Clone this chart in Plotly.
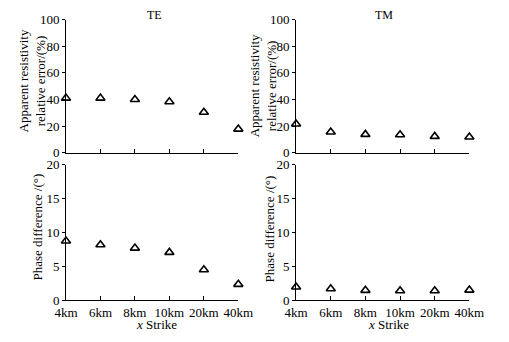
import plotly.graph_objects as go

categories = ["4km", "6km", "8km", "10km", "20km", "40km"]
te_res = [41, 41, 40, 38.3, 30.4, 17.7]
tm_res = [21.5, 15.5, 13.7, 13.4, 12.2, 11.7]
te_phase = [8.75, 8.2, 7.7, 7.06, 4.5, 2.35]
tm_phase = [1.95, 1.7, 1.46, 1.4, 1.4, 1.5]

xpos = list(range(len(categories)))
W, H = 509, 342
FONT = "Liberation Serif"

fig = go.Figure()
mk = dict(symbol="triangle-up-open", size=8, color="black", line=dict(width=1.6, color="black"))
series = [(te_res, "x", "y"), (tm_res, "x2", "y2"), (te_phase, "x3", "y3"), (tm_phase, "x4", "y4")]
for vals, xa, ya in series:
    fig.add_trace(go.Scatter(x=xpos, y=vals, mode="markers", marker=mk, xaxis=xa, yaxis=ya,
                             cliponaxis=False, showlegend=False))

xl = [57 / W, 239 / W]
xr = [300 / W, 483 / W]
yt = [(H - 152.3) / H, (H - 13.3) / H]
yb = [(H - 306.7) / H, (H - 165) / H]

def xax(dom, anchor, labels):
    return dict(domain=dom, anchor=anchor, range=[0, 5], tickvals=xpos,
                ticktext=categories if labels else [""] * 6, showticklabels=labels,
                ticks="inside", ticklen=4, tickcolor="black", showline=True, linecolor="black",
                linewidth=1, showgrid=False, zeroline=False,
                tickfont=dict(family=FONT, size=13, color="black"))

def yax(dom, anchor, rng, dtick):
    return dict(domain=dom, anchor=anchor, range=rng, dtick=dtick, ticks="outside", ticklen=3,
                tickcolor="black", showline=True, linecolor="black", linewidth=1,
                showgrid=False, zeroline=False,
                tickfont=dict(family=FONT, size=13, color="black"))

fig.update_layout(
    width=W, height=H, margin=dict(l=0, r=0, t=0, b=0),
    paper_bgcolor="white", plot_bgcolor="white",
    xaxis=xax(xl, "y", False), yaxis=yax(yt, "x", [0, 100], 20),
    xaxis2=xax(xr, "y2", False), yaxis2=yax(yt, "x2", [0, 100], 20),
    xaxis3=xax(xl, "y3", True), yaxis3=yax(yb, "x3", [0, 20], 5),
    xaxis4=xax(xr, "y4", True), yaxis4=yax(yb, "x4", [0, 20], 5),
)

def ann(text, x, y, size=13, angle=0):
    fig.add_annotation(text=text, x=x / W, y=1 - y / H, xref="paper", yref="paper",
                       showarrow=False, textangle=angle, xanchor="center", yanchor="middle",
                       font=dict(family=FONT, size=size, color="black"))

ann("TE", 151, 8, 12)
ann("TM", 393, 8, 12)
ann("Apparent resistivity<br>relative error/(%)", 21, 77, 13, -90)
ann("Apparent resistivity<br>relative error/(%)", 266, 82, 13, -90)
ann("Phase difference /(°)", 27, 230, 13, -90)
ann("Phase difference /(°)", 272, 232, 13, -90)
ann("<i>x</i> Strike", 153, 332, 13)
ann("<i>x</i> Strike", 398, 332, 13)

fig.write_html("out.html")
